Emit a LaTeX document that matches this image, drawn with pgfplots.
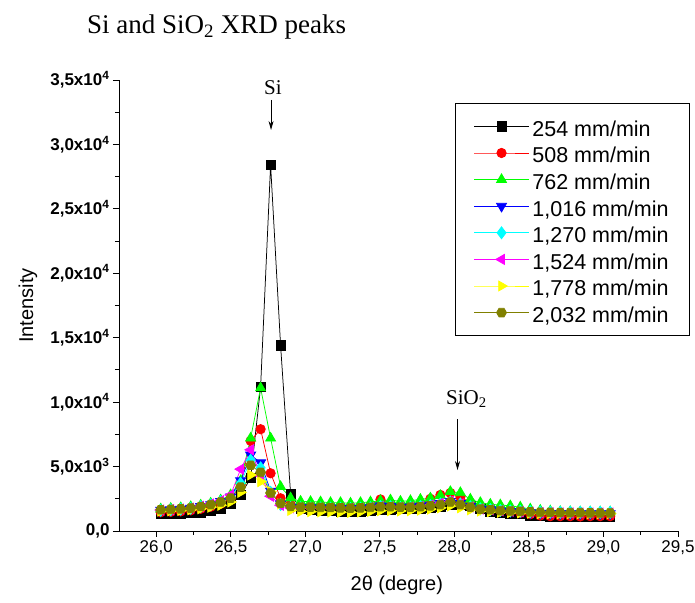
\documentclass[border=0pt]{standalone}
\usepackage{fontspec}
\setmainfont{Liberation Serif}
\newfontfamily\arial{Liberation Sans}
\usepackage{pgfplots}
\pgfplotsset{compat=1.18}
\usepackage{pgfplotstable}
\usetikzlibrary{arrows.meta}
\definecolor{cgreen}{RGB}{0,255,0}
\definecolor{cred}{RGB}{255,0,0}
\definecolor{cblue}{RGB}{0,0,255}
\definecolor{ccyan}{RGB}{0,255,255}
\definecolor{cmag}{RGB}{255,0,255}
\definecolor{cyel}{RGB}{255,255,0}
\definecolor{colive}{RGB}{128,128,0}
\pgfdeclareplotmark{hexagon*}{%
  \pgfpathmoveto{\pgfpointpolar{0}{\pgfplotmarksize}}%
  \pgfpathlineto{\pgfpointpolar{60}{\pgfplotmarksize}}%
  \pgfpathlineto{\pgfpointpolar{120}{\pgfplotmarksize}}%
  \pgfpathlineto{\pgfpointpolar{180}{\pgfplotmarksize}}%
  \pgfpathlineto{\pgfpointpolar{240}{\pgfplotmarksize}}%
  \pgfpathlineto{\pgfpointpolar{300}{\pgfplotmarksize}}%
  \pgfpathclose
  \pgfusepathqfillstroke
}
\pgfplotstableread{
x      a     b     c     d     e     f     g     h
26.030 1320  1450  1700  1620  1600  1630  1550  1650
26.097 1320  1480  1750  1650  1640  1660  1570  1680
26.164 1350  1520  1800  1700  1690  1710  1600  1720
26.231 1400  1600  1880  1770  1760  1780  1650  1780
26.298 1450  1720  2000  1900  1880  1920  1730  1900
26.365 1550  1880  2150  2050  2030  2100  1850  2050
26.432 1750  2100  2400  2300  2280  2350  2000  2250
26.499 2100  2500  2800  2650  2600  2800  2250  2550
26.566 2800  3600  3900  3900  3700  4800  3000  3400
26.633 4100  7000  7200  5900  5500  6300  4350  5100
26.700 11200 7900  11100 5300  4900  4300  3830  4550
26.767 28400 4480  7200  3100  3000  2700  3050  2950
26.834 14400 2540  3440  2100  2050  2000  2100  2150
26.901 2900  2050  2560  1850  1820  1800  1600  1900
26.968 1700  1950  2300  1820  1800  1780  1520  1850
27.035 1650  1920  2280  1820  1790  1780  1500  1850
27.102 1600  1900  2250  1800  1780  1770  1480  1830
27.169 1560  1880  2200  1790  1770  1760  1470  1820
27.236 1530  1850  2200  1770  1760  1750  1460  1800
27.303 1500  1850  2150  1760  1750  1740  1450  1780
27.370 1520  1900  2200  1780  1770  1760  1480  1800
27.437 1560  2000  2250  1820  1800  1800  1520  1830
27.504 1620  2450  2350  1950  1900  1900  1580  1880
27.571 1680  2100  2400  1900  1880  1880  1580  1880
27.638 1700  1950  2300  1850  1830  1830  1560  1850
27.705 1700  1950  2350  1870  1850  1850  1580  1850
27.772 1750  2100  2450  1920  1900  1900  1620  1880
27.839 1800  2500  2550  2000  1980  2000  1700  1950
27.906 1900  2800  2750  2150  2100  2150  1800  2050
27.973 2000  2950  3050  2300  2250  2300  1950  2250
28.040 2050  2650  2970  2150  2100  2100  1800  2050
28.107 1950  2200  2460  1900  1880  1870  1650  1850
28.174 1700  1900  2200  1720  1720  1700  1550  1700
28.241 1500  1750  2070  1650  1660  1640  1500  1650
28.308 1400  1600  2020  1560  1600  1570  1450  1580
28.375 1350  1500  1950  1520  1560  1530  1420  1550
28.442 1300  1400  1850  1480  1540  1500  1400  1530
28.509 1220  1300  1700  1420  1500  1460  1380  1480
28.576 1150  1200  1600  1380  1470  1420  1350  1450
28.643 1120  1150  1550  1370  1460  1410  1350  1440
28.710 1100  1150  1500  1360  1450  1400  1350  1430
28.777 1100  1150  1500  1350  1450  1400  1350  1420
28.844 1080  1130  1480  1350  1450  1400  1350  1420
28.911 1100  1150  1480  1350  1450  1400  1350  1410
28.978 1100  1150  1480  1350  1450  1400  1350  1400
29.045 1100  1150  1480  1350  1450  1400  1350  1400
}\xrd
\begin{document}
\begin{tikzpicture}
\begin{axis}[
  name=ax,
  scale only axis,
  width=559pt, height=451pt,
  xmin=25.75, xmax=29.5, ymin=0, ymax=35000,
  clip=false,
  scaled y ticks=false, scaled x ticks=false,
  axis x line*=bottom, axis y line*=left,
  axis line style={line width=0.9pt},
  tick align=outside,
  major tick length=6pt, minor tick length=4pt,
  tick style={black, line width=0.9pt},
  xtick={26,26.5,27,27.5,28,28.5,29,29.5},
  xticklabels={{26,0},{26,5},{27,0},{27,5},{28,0},{28,5},{29,0},{29,5}},
  ytick={0,5000,10000,15000,20000,25000,30000,35000},
  yticklabels={{0,0},{5,0x10\textsuperscript{3}},{1,0x10\textsuperscript{4}},{1,5x10\textsuperscript{4}},{2,0x10\textsuperscript{4}},{2,5x10\textsuperscript{4}},{3,0x10\textsuperscript{4}},{3,5x10\textsuperscript{4}}},
  minor x tick num=1, minor y tick num=1,
  xticklabel style={font=\arial\fontsize{17}{20}\selectfont},
  yticklabel style={font=\arial\bfseries\fontsize{17}{20}\selectfont},
  xlabel={2θ (degre)},
  ylabel={Intensity},
  xlabel style={at={(axis description cs:0.497,-0.12)}, anchor=center, font=\arial\fontsize{20}{24}\selectfont},
  ylabel style={at={(axis description cs:-0.163,0.5)}, anchor=center, font=\arial\fontsize{20}{24}\selectfont},
  legend style={at={(axis description cs:1.0215,0.949)}, anchor=north east, draw=black, line width=0.8pt,
    font=\arial\fontsize{21.5}{25}\selectfont, row sep=2.6pt, inner xsep=18pt, inner ysep=11pt,
    nodes={inner xsep=3pt, inner ysep=0pt, text height=22pt, text depth=2pt}},
  legend cell align=left,
  legend image code/.code={\draw[mark repeat=2,mark phase=2,#1] plot coordinates {(0pt,0pt) (27.5pt,0pt) (55pt,0pt)};},
  every axis plot/.append style={line width=0.75pt},
]
\addplot[black, mark=square*, mark size=4.6pt, mark options={solid}] table[x=x,y=a] {\xrd};
\addlegendentry{254 mm/min}
\addplot[cred, mark=*, mark size=4.7pt] table[x=x,y=b] {\xrd};
\addlegendentry{508 mm/min}
\addplot[cgreen, mark=triangle*, mark size=5.8pt] table[x=x,y=c] {\xrd};
\addlegendentry{762 mm/min}
\addplot[cblue, mark=triangle*, mark size=5.8pt, mark options={rotate=180}] table[x=x,y=d] {\xrd};
\addlegendentry{1,016 mm/min}
\addplot[ccyan, mark=diamond*, mark size=6pt] table[x=x,y=e] {\xrd};
\addlegendentry{1,270 mm/min}
\addplot[cmag, mark=triangle*, mark size=5.8pt, mark options={rotate=90}] table[x=x,y=f] {\xrd};
\addlegendentry{1,524 mm/min}
\addplot[cyel, mark=triangle*, mark size=5.8pt, mark options={rotate=-90}] table[x=x,y=g] {\xrd};
\addlegendentry{1,778 mm/min}
\addplot[colive, mark=hexagon*, mark size=5pt] table[x=x,y=h] {\xrd};
\addlegendentry{2,032 mm/min}
\node[anchor=base west, inner sep=0pt, font=\fontsize{27}{32}\selectfont] at (axis description cs:-0.0572,1.104) {Si and SiO\textsubscript{2} XRD peaks};
\node[anchor=base west, inner sep=0pt, font=\fontsize{21}{25}\selectfont] at (axis cs:26.723,33890) {Si};
\draw[-{Stealth[length=9pt,width=5pt]}, line width=0.8pt] (axis cs:26.77,33450) -- (axis cs:26.77,31120);
\node[anchor=base west, inner sep=0pt, font=\fontsize{21}{25}\selectfont] at (axis cs:27.943,9830) {SiO\textsubscript{2}};
\draw[-{Stealth[length=9pt,width=5pt]}, line width=0.8pt] (axis cs:28.021,8670) -- (axis cs:28.021,4730);
\end{axis}
\pgfresetboundingbox
\path[use as bounding box] ([shift={(-119pt,-72pt)}]ax.south west) rectangle ([shift={(17pt,80pt)}]ax.north east);
\end{tikzpicture}
\end{document}
